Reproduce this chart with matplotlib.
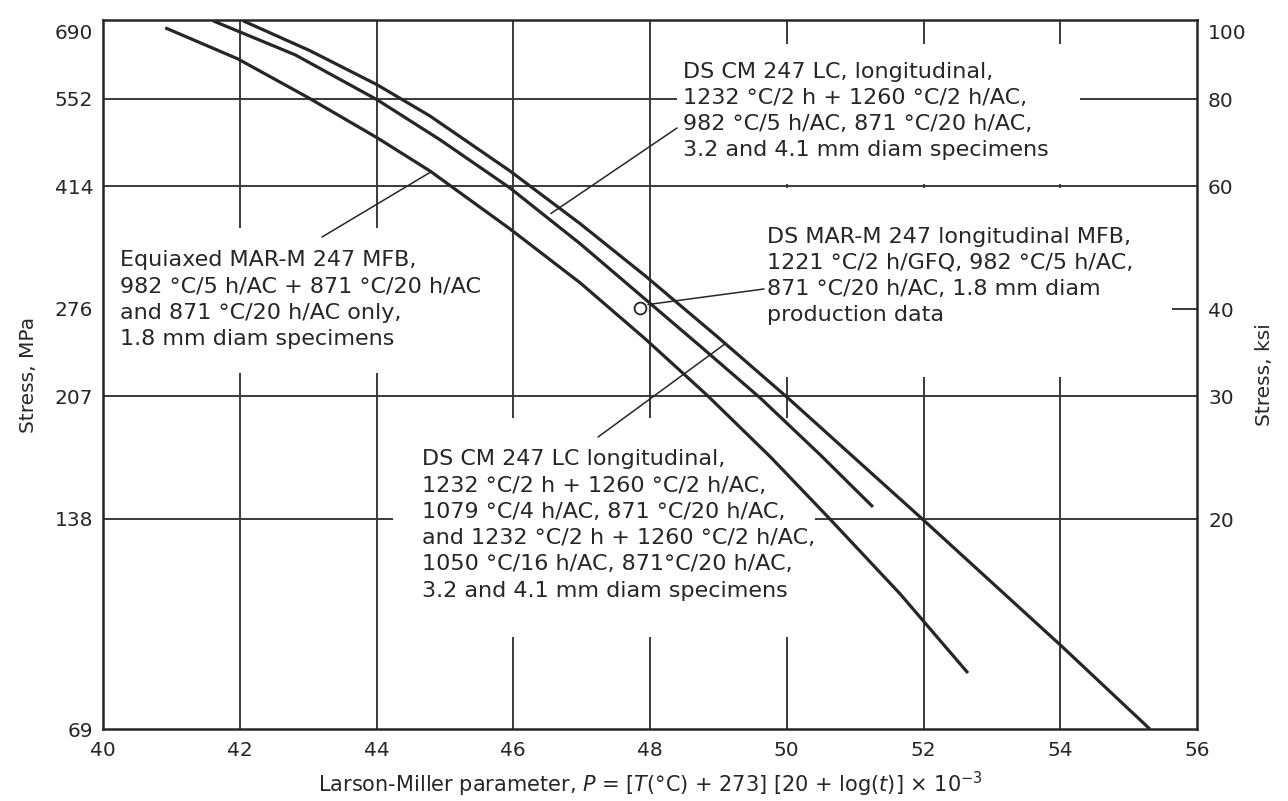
import matplotlib
matplotlib.use("Agg")
import matplotlib.pyplot as plt
from matplotlib.patches import Rectangle
from matplotlib.ticker import NullLocator, FixedLocator, FixedFormatter

# ---------------- data ----------------
x_ticks = [40, 42, 44, 46, 48, 50, 52, 54, 56]
mpa_ticks = [69, 138, 207, 276, 414, 552, 690]
ksi_ticks = [10, 20, 30, 40, 60, 80, 100]
grid_x = [42, 44, 46, 48, 50, 52, 54]
grid_mpa = [138, 207, 414, 552]

# Equiaxed MAR-M 247 MFB (lowest curve)
eq_P = [40.91, 41.97, 42.98, 44.01, 44.78, 45.95, 46.98, 47.93, 48.83, 49.76, 50.63, 51.66, 52.65]
eq_S = [697.8, 629.9, 555.7, 485.4, 435.2, 359.5, 300.7, 250.0, 207.8, 169.4, 138.0, 107.7, 83.0]
# DS CM 247 LC (middle curve)
mid_P = [41.61, 42.81, 44.01, 44.93, 45.95, 46.98, 47.94, 48.73, 49.61, 50.49, 51.26]
mid_S = [714, 638.3, 550.3, 482.2, 411.5, 342.1, 284.4, 244.3, 205.8, 170.5, 143.6]
# DS CM 247 LC (upper curve)
up_P = [42.05, 43.03, 44.01, 44.78, 45.95, 46.98, 47.93, 48.97, 50.0, 51.95, 54.03, 55.31]
up_S = [714, 646.8, 578.2, 521.8, 435.2, 365.5, 307.8, 252.5, 206.4, 138.9, 90.5, 69]
# DS MAR-M 247 production data point
prod_P = [47.85]
prod_S = [277]

MPA_PER_KSI = 6.895
y_lo, y_hi = 69, 716

txt1 = ("DS CM 247 LC, longitudinal,\n1232 °C/2 h + 1260 °C/2 h/AC,\n"
        "982 °C/5 h/AC, 871 °C/20 h/AC,\n3.2 and 4.1 mm diam specimens")
txt2 = ("DS MAR-M 247 longitudinal MFB,\n1221 °C/2 h/GFQ, 982 °C/5 h/AC,\n"
        "871 °C/20 h/AC, 1.8 mm diam\nproduction data")
txt3 = ("DS CM 247 LC longitudinal,\n1232 °C/2 h + 1260 °C/2 h/AC,\n"
        "1079 °C/4 h/AC, 871 °C/20 h/AC,\nand 1232 °C/2 h + 1260 °C/2 h/AC,\n"
        "1050 °C/16 h/AC, 871°C/20 h/AC,\n3.2 and 4.1 mm diam specimens")
txt4 = ("Equiaxed MAR-M 247 MFB,\n982 °C/5 h/AC + 871 °C/20 h/AC\n"
        "and 871 °C/20 h/AC only,\n1.8 mm diam specimens")

# ---------------- style ----------------
plt.rcParams['font.family'] = ['DejaVu Sans']
plt.rcParams['mathtext.fontset'] = 'dejavusans'
ink = '#262626'
grid_c = '#3a3a3a'

fig = plt.figure(figsize=(12.88, 8.01), dpi=100)
ax = fig.add_axes([103/1288, 1-729/801, 1094/1288, 709/801])
ax.set_xlim(40, 56)
ax.set_yscale('log')
ax.set_ylim(y_lo, y_hi)
ax.xaxis.set_major_locator(FixedLocator(x_ticks))
ax.xaxis.set_major_formatter(FixedFormatter([str(v) for v in x_ticks]))
ax.yaxis.set_major_locator(FixedLocator(mpa_ticks))
ax.yaxis.set_major_formatter(FixedFormatter([str(v) for v in mpa_ticks]))
ax.yaxis.set_minor_locator(NullLocator())
ax.tick_params(axis='both', length=0, labelsize=14.5, colors=ink)
ax.tick_params(axis='y', pad=7)
ax.tick_params(axis='x', pad=9)
for s in ax.spines.values():
    s.set_linewidth(1.8)
    s.set_color(ink)

# grid
for v in grid_x:
    ax.axvline(v, color=grid_c, lw=1.4, zorder=1)
for v in grid_mpa:
    ax.axhline(v, color=grid_c, lw=1.4, zorder=1)
ax.axhline(276, xmin=0.977, xmax=1.0, color=grid_c, lw=1.4, zorder=1)

# white areas behind labels that break the grid
for (x0, y0, w, h) in [(0.5247, 0.7687, 0.3684, 0.1975),
                       (0.6005, 0.4965, 0.3766, 0.2666),
                       (0.2651, 0.1298, 0.3857, 0.3089),
                       (0.0064, 0.5021, 0.3547, 0.2045)]:
    ax.add_patch(Rectangle((x0, y0), w, h, transform=ax.transAxes,
                           facecolor='white', edgecolor='none', zorder=2))

# curves
for P, S in [(eq_P, eq_S), (mid_P, mid_S), (up_P, up_S)]:
    ax.plot(P, S, color=ink, lw=2.3, zorder=3, solid_capstyle='butt',
            solid_joinstyle='round')
ax.plot(prod_P, prod_S, 'o', mfc='white', mec=ink, mew=1.3, ms=8.5, zorder=4)

# text blocks
tk = dict(fontsize=16, color=ink, ha='left', va='center', linespacing=1.39,
          transform=ax.transAxes, zorder=5)
ax.text(0.5302, 0.8717, txt1, **tk)
ax.text(0.6069, 0.6389, txt2, **tk)
ax.text(0.2916, 0.2877, txt3, **tk)
ax.text(0.0155, 0.6058, txt4, **tk)

# leader lines
lk = dict(arrowstyle='-', lw=1.1, color=ink, shrinkA=0, shrinkB=0)
ax.annotate('', xy=(46.55, 378), xytext=(0.5247, 0.8477), textcoords='axes fraction', arrowprops=lk, zorder=3)
ax.annotate('', xy=(47.97, 280), xytext=(0.6042, 0.6206), textcoords='axes fraction', arrowprops=lk, zorder=3)
ax.annotate('', xy=(44.8, 434), xytext=(0.2002, 0.6939), textcoords='axes fraction', arrowprops=lk, zorder=3)
ax.annotate('', xy=(49.1, 246), xytext=(0.4525, 0.4118), textcoords='axes fraction', arrowprops=lk, zorder=3)

ax.set_xlabel(r"Larson-Miller parameter, $P$ = [$T$(°C) + 273] [20 + log($t$)] × 10$^{-3}$",
              fontsize=15, color=ink, labelpad=7)
ax.set_ylabel("Stress, MPa", fontsize=14.5, color=ink, labelpad=12)

# right axis in ksi
ax2 = ax.twinx()
ax2.set_yscale('log')
ax2.set_ylim(y_lo / MPA_PER_KSI, y_hi / MPA_PER_KSI)
ax2.yaxis.set_major_locator(FixedLocator(ksi_ticks))
ax2.yaxis.set_major_formatter(FixedFormatter([str(v) for v in ksi_ticks]))
ax2.yaxis.set_minor_locator(NullLocator())
ax2.tick_params(axis='y', length=0, labelsize=14.5, colors=ink, pad=8)
for s in ax2.spines.values():
    s.set_visible(False)
ax2.set_ylabel("Stress, ksi", fontsize=14.5, color=ink, labelpad=6)

fig.savefig("out.png", dpi=100, facecolor='white')
